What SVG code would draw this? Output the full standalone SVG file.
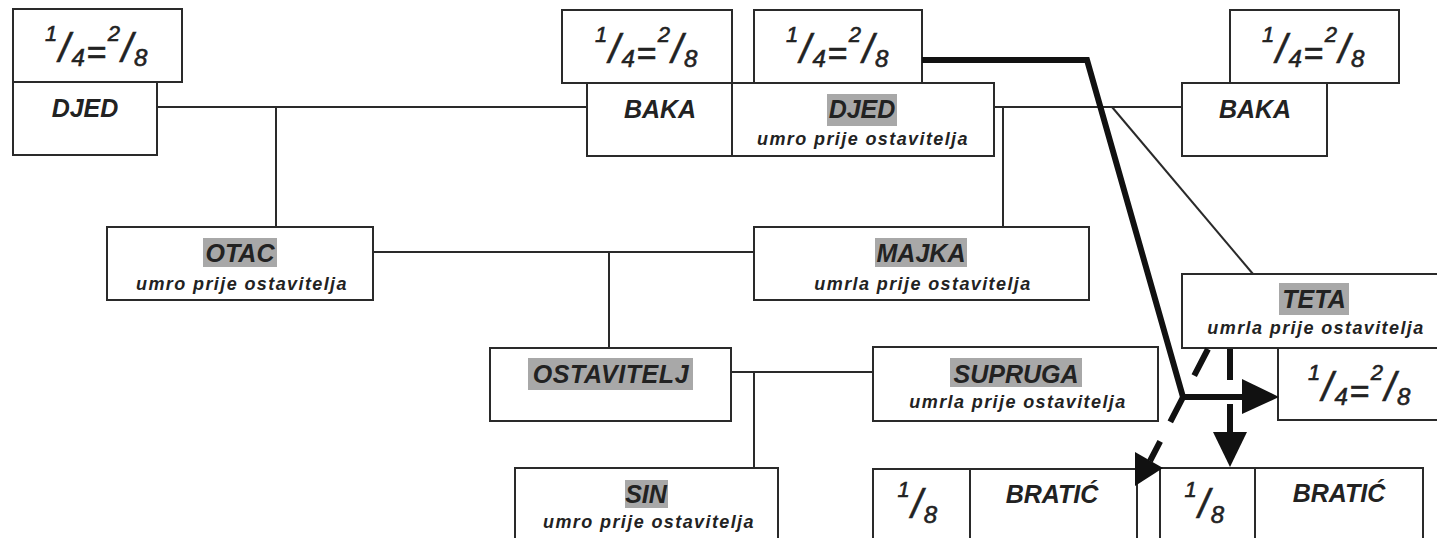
<svg xmlns="http://www.w3.org/2000/svg" width="1437" height="538" viewBox="0 0 1437 538">
<style>
.box{fill:#fff;stroke:#2a2a2a;stroke-width:2}
.ln{stroke:#2a2a2a;stroke-width:2;fill:none}
.thick{stroke:#111;stroke-width:6;fill:none}
.dash{stroke:#111;stroke-width:6;fill:none;stroke-dasharray:30 22}
.ah{fill:#111}
.hl{fill:#a8a8a8}
.lbl{font-family:"Liberation Sans",Arial,sans-serif;font-style:italic;font-weight:bold;font-size:25px;fill:#222;text-anchor:middle}
.st{font-family:"Liberation Sans",Arial,sans-serif;font-style:italic;font-weight:bold;font-size:18px;letter-spacing:1.4px;fill:#222;text-anchor:middle}
.frac{font-family:"Liberation Sans",Arial,sans-serif;font-style:italic;fill:#222;stroke:#222;stroke-width:0.6;text-anchor:middle;letter-spacing:1.5px}
.su{font-size:22px}
.sb{font-size:24px}
.sl{font-size:40px}
.eq{font-size:34px}
</style>
<rect width="1437" height="538" fill="#fff"/>

<g id="connectors">
<line class="ln" x1="157" y1="107" x2="587" y2="107"/>
<line class="ln" x1="276" y1="107" x2="276" y2="227"/>
<line class="ln" x1="994" y1="107" x2="1182" y2="107"/>
<line class="ln" x1="1003" y1="107" x2="1003" y2="227"/>
<line class="ln" x1="1112" y1="107" x2="1253" y2="274"/>
<line class="ln" x1="373" y1="252" x2="754" y2="252"/>
<line class="ln" x1="609" y1="252" x2="609" y2="348"/>
<line class="ln" x1="731" y1="372" x2="873" y2="372"/>
<line class="ln" x1="754" y1="372" x2="754" y2="468"/>
</g>

<g id="node-djed-left">
<rect class="box" x="13" y="9" width="169" height="73"/>
<text class="frac" x="97" y="62"><tspan class="su" dy="-21">1</tspan><tspan class="sl" dy="21">/</tspan><tspan class="sb" dy="4">4</tspan><tspan class="eq" dy="-2">=</tspan><tspan class="su" dy="-23">2</tspan><tspan class="sl" dy="21">/</tspan><tspan class="sb" dy="4">8</tspan></text>
<rect class="box" x="13" y="82" width="144" height="73"/>
<text class="lbl" x="85" y="117">DJED</text>
</g>

<g id="node-baka-mid">
<rect class="box" x="562" y="10" width="170" height="73"/>
<text class="frac" x="647" y="63"><tspan class="su" dy="-21">1</tspan><tspan class="sl" dy="21">/</tspan><tspan class="sb" dy="4">4</tspan><tspan class="eq" dy="-2">=</tspan><tspan class="su" dy="-23">2</tspan><tspan class="sl" dy="21">/</tspan><tspan class="sb" dy="4">8</tspan></text>
<rect class="box" x="587" y="83" width="145" height="73"/>
<text class="lbl" x="660" y="118">BAKA</text>
</g>

<g id="node-djed-mid">
<rect class="box" x="754" y="10" width="168" height="73"/>
<text class="frac" x="838" y="63"><tspan class="su" dy="-21">1</tspan><tspan class="sl" dy="21">/</tspan><tspan class="sb" dy="4">4</tspan><tspan class="eq" dy="-2">=</tspan><tspan class="su" dy="-23">2</tspan><tspan class="sl" dy="21">/</tspan><tspan class="sb" dy="4">8</tspan></text>
<rect class="box" x="732" y="83" width="262" height="73"/>
<rect class="hl" x="827" y="94" width="70" height="32"/>
<text class="lbl" x="862" y="118">DJED</text>
<text class="st" x="863" y="145">umro prije ostavitelja</text>
</g>

<g id="node-baka-right">
<rect class="box" x="1230" y="10" width="169" height="73"/>
<text class="frac" x="1314" y="63"><tspan class="su" dy="-21">1</tspan><tspan class="sl" dy="21">/</tspan><tspan class="sb" dy="4">4</tspan><tspan class="eq" dy="-2">=</tspan><tspan class="su" dy="-23">2</tspan><tspan class="sl" dy="21">/</tspan><tspan class="sb" dy="4">8</tspan></text>
<rect class="box" x="1182" y="83" width="145" height="73"/>
<text class="lbl" x="1255" y="118">BAKA</text>
</g>

<g id="node-otac">
<rect class="box" x="107" y="227" width="266" height="73"/>
<rect class="hl" x="203" y="238" width="74" height="29"/>
<text class="lbl" x="240" y="262">OTAC</text>
<text class="st" x="242" y="290">umro prije ostavitelja</text>
</g>

<g id="node-majka">
<rect class="box" x="754" y="227" width="335" height="73"/>
<rect class="hl" x="875" y="238" width="92" height="29"/>
<text class="lbl" x="921" y="262">MAJKA</text>
<text class="st" x="923" y="290">umrla prije ostavitelja</text>
</g>

<g id="node-ostavitelj">
<rect class="box" x="490" y="348" width="241" height="73"/>
<rect class="hl" x="528" y="358" width="165" height="32"/>
<text class="lbl" x="611" y="383" style="letter-spacing:0.6px">OSTAVITELJ</text>
</g>

<g id="node-supruga">
<rect class="box" x="873" y="347" width="285" height="74"/>
<rect class="hl" x="950" y="358" width="132" height="29"/>
<text class="lbl" x="1016" y="383">SUPRUGA</text>
<text class="st" x="1018" y="408">umrla prije ostavitelja</text>
</g>

<g id="node-sin">
<rect class="box" x="515" y="468" width="263" height="80"/>
<rect class="hl" x="625" y="480" width="43" height="28"/>
<text class="lbl" x="646" y="503">SIN</text>
<text class="st" x="649" y="528">umro prije ostavitelja</text>
</g>

<g id="node-teta">
<rect class="box" x="1182" y="274" width="265" height="74"/>
<rect class="hl" x="1279" y="283" width="70" height="32"/>
<text class="lbl" x="1314" y="308">TETA</text>
<text class="st" x="1316" y="334">umrla prije ostavitelja</text>
<rect class="box" x="1278" y="348" width="169" height="72"/>
<text class="frac" x="1360" y="401"><tspan class="su" dy="-21">1</tspan><tspan class="sl" dy="21">/</tspan><tspan class="sb" dy="4">4</tspan><tspan class="eq" dy="-2">=</tspan><tspan class="su" dy="-23">2</tspan><tspan class="sl" dy="21">/</tspan><tspan class="sb" dy="4">8</tspan></text>
</g>

<g id="node-bratic-1">
<rect class="box" x="873" y="469" width="97" height="80"/>
<text class="frac" x="918" y="518"><tspan class="su" dy="-21">1</tspan><tspan class="sl" dy="21">/</tspan><tspan class="sb" dy="5">8</tspan></text>
<rect class="box" x="970" y="469" width="167" height="80"/>
<text class="lbl" x="1052" y="503">BRATIĆ</text>
</g>

<g id="node-bratic-2">
<rect class="box" x="1160" y="468" width="95" height="80"/>
<text class="frac" x="1205" y="518"><tspan class="su" dy="-21">1</tspan><tspan class="sl" dy="21">/</tspan><tspan class="sb" dy="5">8</tspan></text>
<rect class="box" x="1255" y="468" width="168" height="80"/>
<text class="lbl" x="1339" y="502">BRATIĆ</text>
</g>

<g id="flow-arrows">
<line class="dash" x1="1230" y1="349" x2="1230" y2="433" style="stroke-dasharray:31 24"/>
<polygon class="ah" points="1213,432 1247,432 1230,467"/>
<line class="dash" x1="1208" y1="349" x2="1150" y2="461"/>
<polygon class="ah" points="1135,452 1163,468 1135,486"/>
<polyline class="thick" points="922,60 1087,60 1183,397 1245,397" stroke-linejoin="miter"/>
<polygon class="ah" points="1242,379 1279,397 1242,414"/>
</g>
</svg>
